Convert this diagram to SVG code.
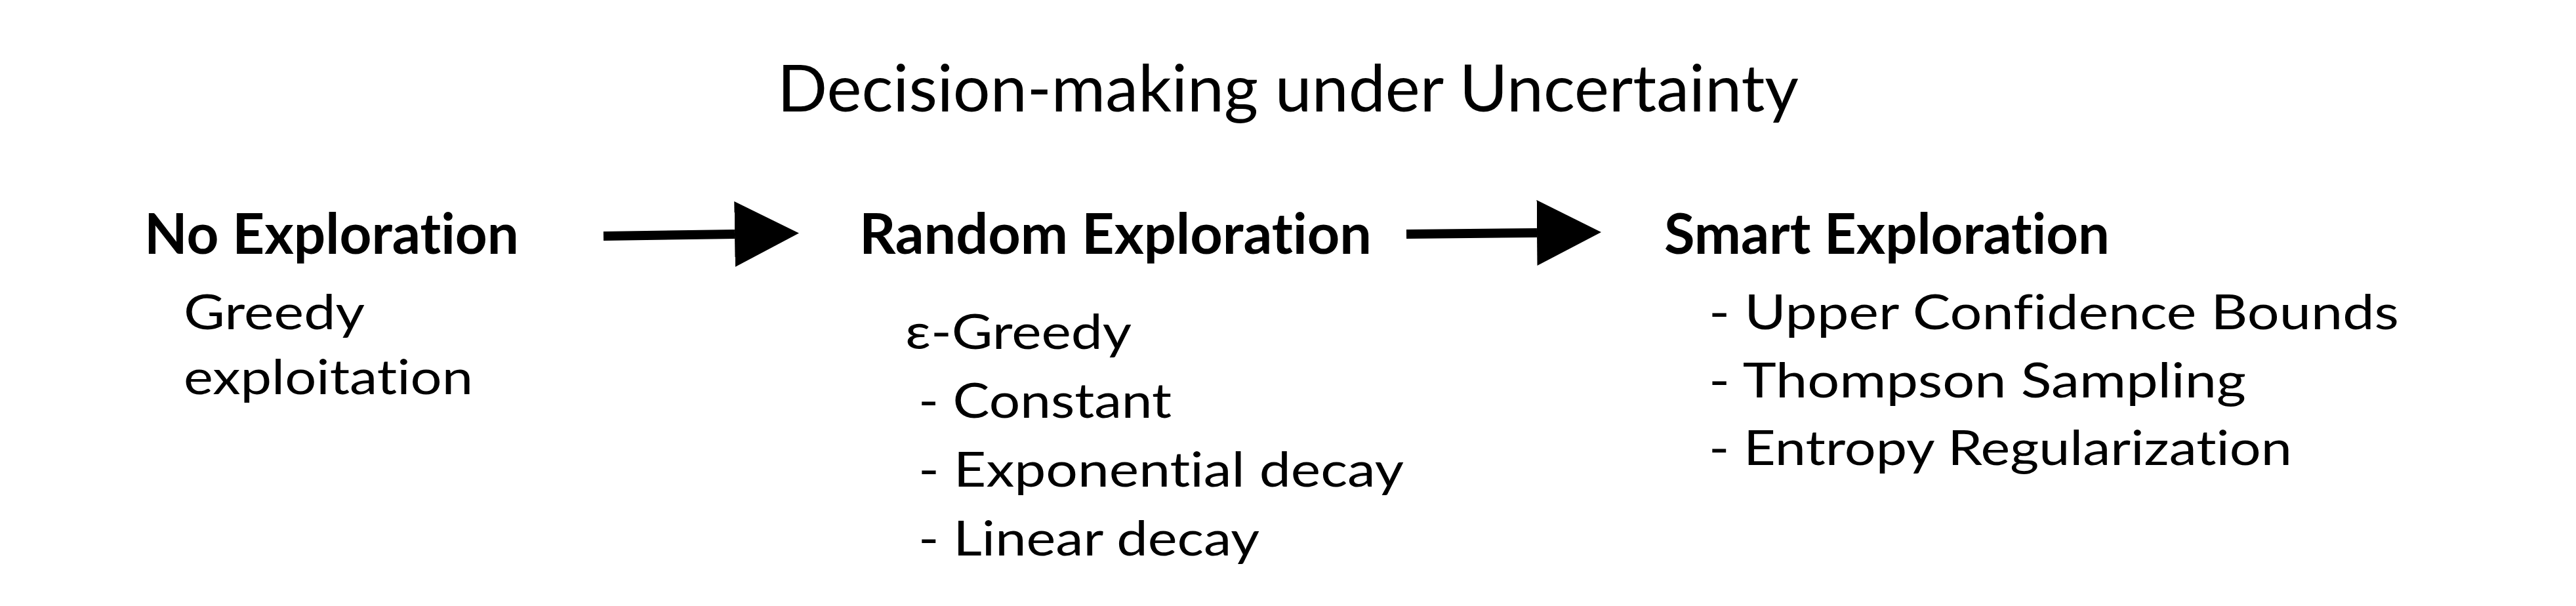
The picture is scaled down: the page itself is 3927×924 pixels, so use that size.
<svg xmlns="http://www.w3.org/2000/svg" width="3927" height="924" viewBox="0 0 3927 924">
<style>
text{font-family:Lato,"Noto Sans","Liberation Sans",sans-serif;fill:#000;font-variant-ligatures:none;font-feature-settings:"liga" 0,"clig" 0}
.title{font-size:98px;font-weight:400}
.head{font-size:86px;font-weight:700}
.body{font-size:74px;font-weight:400}
.conn{stroke:#000;stroke-width:14;fill:none;marker-end:url(#ah)}
</style>
<defs>
<marker id="ah" markerUnits="userSpaceOnUse" viewBox="0 0 98 100" markerWidth="98" markerHeight="100" refX="0" refY="50" orient="auto">
<path d="M0,0 L98,50 L0,100 Z" fill="#000"/>
</marker>
</defs>
<rect width="3927" height="924" fill="#fff"/>
<g id="title"><text class="title" x="1185" y="170" textLength="1557" lengthAdjust="spacingAndGlyphs">Decision-making under Uncertainty</text></g>
<g id="node-no-exploration">
<text class="head" x="220" y="387" textLength="571" lengthAdjust="spacingAndGlyphs">No Exploration</text>
<text class="body" x="280" y="502" textLength="276" lengthAdjust="spacingAndGlyphs">Greedy</text>
<text class="body" x="280" y="601" textLength="441" lengthAdjust="spacingAndGlyphs">exploitation</text>
</g>
<g id="node-random-exploration">
<text class="head" x="1310" y="387" textLength="781" lengthAdjust="spacingAndGlyphs">Random Exploration</text>
<text class="body" x="1380" y="532" textLength="345" lengthAdjust="spacingAndGlyphs">ε-Greedy</text>
<text class="body" x="1400" y="637" textLength="386" lengthAdjust="spacingAndGlyphs">- Constant</text>
<text class="body" x="1400" y="742" textLength="740" lengthAdjust="spacingAndGlyphs">- Exponential decay</text>
<text class="body" x="1400" y="847" textLength="520" lengthAdjust="spacingAndGlyphs">- Linear decay</text>
</g>
<g id="node-smart-exploration">
<text class="head" x="2537" y="387" textLength="679" lengthAdjust="spacingAndGlyphs">Smart Exploration</text>
<text class="body" x="2605" y="502" textLength="1052" lengthAdjust="spacingAndGlyphs">- Upper Confidence Bounds</text>
<text class="body" x="2605" y="606" textLength="819" lengthAdjust="spacingAndGlyphs">- Thompson Sampling</text>
<text class="body" x="2605" y="709" textLength="889" lengthAdjust="spacingAndGlyphs">- Entropy Regularization</text>
</g>
<g id="connectors">
<line class="conn" x1="920" y1="360" x2="1120" y2="357"/>
<line class="conn" x1="2144" y1="357" x2="2343" y2="355"/>
</g>
</svg>
